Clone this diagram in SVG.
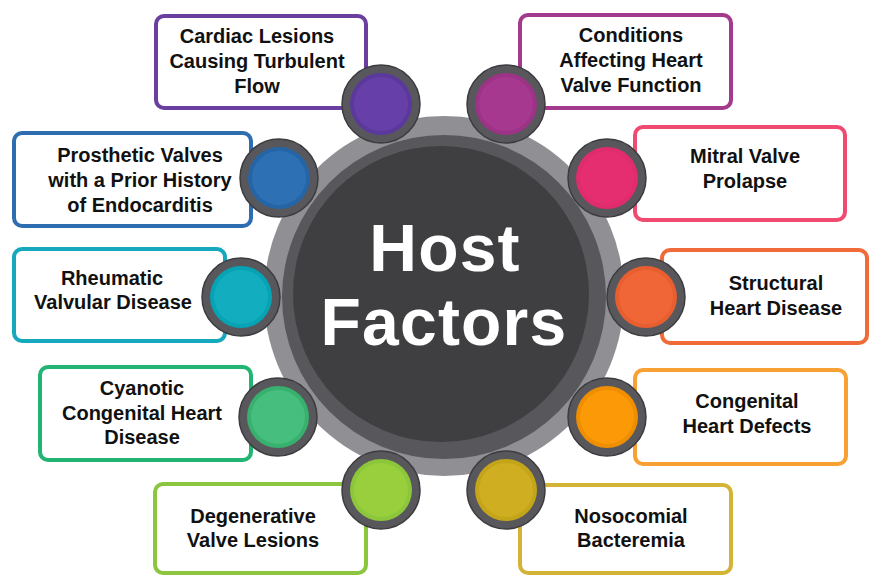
<svg xmlns="http://www.w3.org/2000/svg" width="870" height="576" viewBox="0 0 870 576">
  <style>
    .box { fill: #ffffff; stroke-width: 4; }
    .lbl { font-family: "Liberation Sans", Arial, sans-serif; font-weight: bold; font-size: 20px; fill: #111111; text-anchor: middle; }
    .ring { fill: #58585c; stroke: #3c3c3f; stroke-width: 1.5; }
    .title { font-family: "Liberation Sans", Arial, sans-serif; font-weight: bold; font-size: 66px; letter-spacing: 1.2px; fill: #ffffff; text-anchor: middle; }
  </style>

  <rect width="870" height="576" fill="#ffffff"/>

  <!-- hub -->
  <g id="hub">
    <circle cx="444" cy="296" r="180" fill="#8f8f94"/>
    <circle cx="444" cy="297" r="162" fill="#58585c"/>
    <circle cx="441" cy="294" r="148" fill="#3f3f42"/>
    <text class="title" x="445" y="271">Host</text>
    <text class="title" x="444" y="345">Factors</text>
  </g>

  <g id="connectors"/>

  <!-- factor nodes: label box with a badge on the hub side -->
  <g id="cardiac-lesions">
    <rect class="box" x="156" y="16" width="210" height="92" rx="8" stroke="#6a3fa0"/>
    <text class="lbl" x="257" y="43">Cardiac Lesions</text>
    <text class="lbl" x="257" y="68">Causing Turbulent</text>
    <text class="lbl" x="257" y="93">Flow</text>
    <circle class="ring" cx="381" cy="104" r="39"/>
    <circle cx="381" cy="104" r="31" fill="#5b389c"/>
    <circle cx="381" cy="104" r="27" fill="#6640a8"/>
  </g>

  <g id="valve-function">
    <rect class="box" x="520" y="15" width="211" height="93" rx="8" stroke="#a33a8b"/>
    <text class="lbl" x="631" y="42">Conditions</text>
    <text class="lbl" x="631" y="67">Affecting Heart</text>
    <text class="lbl" x="631" y="92">Valve Function</text>
    <circle class="ring" cx="506" cy="104" r="39"/>
    <circle cx="506" cy="104" r="31" fill="#9b3386"/>
    <circle cx="506" cy="104" r="27" fill="#a6398f"/>
  </g>

  <g id="prosthetic-valves">
    <rect class="box" x="14" y="133" width="237" height="93" rx="8" stroke="#2e6eb0"/>
    <text class="lbl" x="140" y="162">Prosthetic Valves</text>
    <text class="lbl" x="140" y="187">with a Prior History</text>
    <text class="lbl" x="140" y="212">of Endocarditis</text>
    <circle class="ring" cx="279" cy="178" r="39"/>
    <circle cx="279" cy="178" r="31" fill="#2565a5"/>
    <circle cx="279" cy="178" r="27" fill="#2d71b4"/>
  </g>

  <g id="mitral-valve-prolapse">
    <rect class="box" x="635" y="127" width="210" height="93" rx="8" stroke="#ef4a70"/>
    <text class="lbl" x="745" y="163">Mitral Valve</text>
    <text class="lbl" x="745" y="188">Prolapse</text>
    <circle class="ring" cx="607" cy="178" r="39"/>
    <circle cx="607" cy="178" r="31" fill="#e02b6c"/>
    <circle cx="607" cy="178" r="27" fill="#e52e70"/>
  </g>

  <g id="rheumatic-disease">
    <rect class="box" x="14" y="249" width="211" height="92" rx="8" stroke="#17a8be"/>
    <text class="lbl" x="112" y="285">Rheumatic</text>
    <text class="lbl" x="113" y="309">Valvular Disease</text>
    <circle class="ring" cx="241" cy="297" r="39"/>
    <circle cx="241" cy="297" r="31" fill="#06a3b5"/>
    <circle cx="241" cy="297" r="27" fill="#12aec0"/>
  </g>

  <g id="structural-disease">
    <rect class="box" x="662" y="250" width="205" height="93" rx="8" stroke="#f06a3a"/>
    <text class="lbl" x="776" y="290">Structural</text>
    <text class="lbl" x="776" y="315">Heart Disease</text>
    <circle class="ring" cx="646" cy="297" r="39"/>
    <circle cx="646" cy="297" r="31" fill="#e95e2f"/>
    <circle cx="646" cy="297" r="27" fill="#f06636"/>
  </g>

  <g id="cyanotic-disease">
    <rect class="box" x="40" y="367" width="211" height="93" rx="8" stroke="#22b473"/>
    <text class="lbl" x="142" y="395">Cyanotic</text>
    <text class="lbl" x="142" y="420">Congenital Heart</text>
    <text class="lbl" x="142" y="444">Disease</text>
    <circle class="ring" cx="278" cy="417" r="39"/>
    <circle cx="278" cy="417" r="31" fill="#38b06e"/>
    <circle cx="278" cy="417" r="27" fill="#46be7d"/>
  </g>

  <g id="congenital-defects">
    <rect class="box" x="635" y="370" width="211" height="94" rx="8" stroke="#f7a033"/>
    <text class="lbl" x="747" y="408">Congenital</text>
    <text class="lbl" x="747" y="433">Heart Defects</text>
    <circle class="ring" cx="607" cy="417" r="39"/>
    <circle cx="607" cy="417" r="31" fill="#ef8e00"/>
    <circle cx="607" cy="417" r="27" fill="#fb9a06"/>
  </g>

  <g id="degenerative-lesions">
    <rect class="box" x="155" y="484" width="211" height="89" rx="8" stroke="#8cc63f"/>
    <text class="lbl" x="253" y="523">Degenerative</text>
    <text class="lbl" x="253" y="547">Valve Lesions</text>
    <circle class="ring" cx="381" cy="490" r="39"/>
    <circle cx="381" cy="490" r="31" fill="#8cc63a"/>
    <circle cx="381" cy="490" r="27" fill="#99cf3d"/>
  </g>

  <g id="nosocomial-bacteremia">
    <rect class="box" x="520" y="485" width="211" height="88" rx="8" stroke="#d3b437"/>
    <text class="lbl" x="631" y="523">Nosocomial</text>
    <text class="lbl" x="631" y="547">Bacteremia</text>
    <circle class="ring" cx="506" cy="490" r="39"/>
    <circle cx="506" cy="490" r="31" fill="#c4a51a"/>
    <circle cx="506" cy="490" r="27" fill="#cfae21"/>
  </g>
</svg>
